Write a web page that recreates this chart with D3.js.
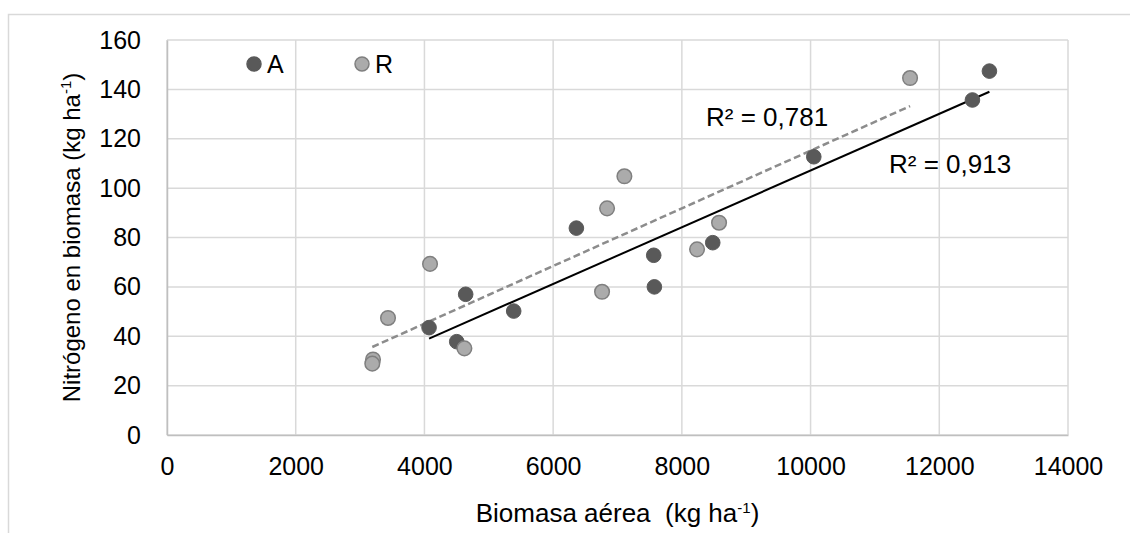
<!DOCTYPE html>
<html>
<head>
<meta charset="utf-8">
<script src="https://cdn.jsdelivr.net/npm/d3@7"></script>
<style>
  body { margin: 0; background: #fff; }
  svg text { font-family: "Liberation Sans", Arial, sans-serif; fill: #000; }
</style>
</head>
<body>
<div class="chart"></div>
<script>
// series A (dark points)
const aBiomasa = [4072, 4641, 4502, 5387, 6361, 7563, 7573, 8480, 10050, 12515, 12779];
const aNitro   = [43.5, 57, 37.8, 50.2, 83.8, 72.8, 60, 77.9, 112.7, 135.7, 147.4];
// series R (light points)
const rBiomasa = [3434, 4087, 3201, 3190, 4621, 6838, 7107, 6760, 8236, 8578, 11546];
const rNitro   = [47.4, 69.3, 30.6, 28.9, 35.1, 91.8, 104.8, 58, 75.2, 86, 144.6];

const xTicks = [0, 2000, 4000, 6000, 8000, 10000, 12000, 14000];
const yTicks = [0, 20, 40, 60, 80, 100, 120, 140, 160];
const r2Labels = ['R² = 0,781', 'R² = 0,913'];

const width = 1130, height = 533;
const margin = {top: 40, right: 62, bottom: 98, left: 167};
const graphWidth = width - margin.left - margin.right;
const graphHeight = height - margin.top - margin.bottom;

const svg = d3.select('.chart')
  .append('svg')
    .attr('width', width)
    .attr('height', height);

// outer chart border
svg.append('rect')
  .attr('x', 8.5).attr('y', 14.5)
  .attr('width', width).attr('height', height)
  .attr('fill', 'none')
  .attr('stroke', '#d9d9d9')
  .attr('stroke-width', 1.5);

const graph = svg.append('g')
  .attr('transform', `translate(${margin.left}, ${margin.top})`);

const x = d3.scaleLinear().domain([0, 14000]).range([0, graphWidth]);
const y = d3.scaleLinear().domain([0, 160]).range([graphHeight, 0]);

// grid
graph.append('g').selectAll('line')
  .data(xTicks)
  .enter().append('line')
    .attr('x1', d => x(d)).attr('x2', d => x(d))
    .attr('y1', 0).attr('y2', graphHeight)
    .attr('stroke', '#d9d9d9').attr('stroke-width', 1.5);

graph.append('g').selectAll('line')
  .data(yTicks)
  .enter().append('line')
    .attr('x1', 0).attr('x2', graphWidth)
    .attr('y1', d => y(d)).attr('y2', d => y(d))
    .attr('stroke', '#d9d9d9').attr('stroke-width', 1.5);

// axes (labels only, lines drawn grey)
const xAxis = d3.axisBottom(x).tickValues(xTicks).tickSize(0).tickPadding(22).tickFormat(d => d);
const yAxis = d3.axisLeft(y).tickValues(yTicks).tickSize(0).tickPadding(26).tickFormat(d => d);

const xAxisGroup = graph.append('g')
  .attr('transform', `translate(0, ${graphHeight})`)
  .call(xAxis);
const yAxisGroup = graph.append('g').call(yAxis);

[xAxisGroup, yAxisGroup].forEach(g => {
  g.select('.domain').attr('stroke', '#bfbfbf').attr('stroke-width', 1.5);
  g.selectAll('text')
    .attr('font-size', 25)
    .attr('font-family', '"Liberation Sans", Arial, sans-serif')
    .attr('fill', '#000');
});

// trendlines (least squares)
function fit(xs, ys) {
  const mx = d3.mean(xs), my = d3.mean(ys);
  let sxy = 0, sxx = 0;
  xs.forEach((v, i) => { sxy += (v - mx) * (ys[i] - my); sxx += (v - mx) * (v - mx); });
  const b = sxy / sxx;
  const a = my - b * mx;
  const x0 = d3.min(xs), x1 = d3.max(xs);
  return [[x0, a + b * x0], [x1, a + b * x1]];
}

const line = d3.line().x(d => x(d[0])).y(d => y(d[1]));

graph.append('path')
  .attr('d', line(fit(rBiomasa, rNitro)))
  .attr('fill', 'none')
  .attr('stroke', '#8c8c8c')
  .attr('stroke-width', 2.5)
  .attr('stroke-dasharray', '7,3.5');

graph.append('path')
  .attr('d', line(fit(aBiomasa, aNitro)))
  .attr('fill', 'none')
  .attr('stroke', '#000')
  .attr('stroke-width', 2);

// points
const rData = rBiomasa.map((v, i) => ({bio: v, n: rNitro[i]}));
const aData = aBiomasa.map((v, i) => ({bio: v, n: aNitro[i]}));

graph.append('g').selectAll('circle')
  .data(aData)
  .enter().append('circle')
    .attr('cx', d => x(d.bio))
    .attr('cy', d => y(d.n))
    .attr('r', 7.3)
    .attr('fill', '#595959')
    .attr('stroke', '#595959')
    .attr('stroke-width', 1);

graph.append('g').selectAll('circle')
  .data(rData)
  .enter().append('circle')
    .attr('cx', d => x(d.bio))
    .attr('cy', d => y(d.n))
    .attr('r', 7.3)
    .attr('fill', '#ababab')
    .attr('stroke', '#7f7f7f')
    .attr('stroke-width', 1.5);

// R² labels
svg.append('text')
  .attr('x', 706).attr('y', 126)
  .attr('font-size', 26)
  .text(r2Labels[0]);
svg.append('text')
  .attr('x', 889).attr('y', 173)
  .attr('font-size', 26)
  .text(r2Labels[1]);

// legend
const legend = [
  {name: 'A', fill: '#595959', stroke: '#595959', cx: 254},
  {name: 'R', fill: '#ababab', stroke: '#7f7f7f', cx: 362}
];
legend.forEach(l => {
  svg.append('circle')
    .attr('cx', l.cx).attr('cy', 64).attr('r', 7)
    .attr('fill', l.fill).attr('stroke', l.stroke).attr('stroke-width', 1.5);
  svg.append('text')
    .attr('x', l.cx + 13).attr('y', 73)
    .attr('font-size', 25)
    .text(l.name);
});

// axis titles
const xTitle = svg.append('text')
  .attr('x', margin.left + graphWidth / 2)
  .attr('y', 522)
  .attr('text-anchor', 'middle')
  .attr('font-size', 26);
xTitle.append('tspan').text('Biomasa aérea\u00a0\u00a0(kg ha');
xTitle.append('tspan').attr('dy', -9).attr('font-size', 15).text('-1');
xTitle.append('tspan').attr('dy', 9).text(')');

const yTitle = svg.append('text')
  .attr('transform', `translate(80, ${margin.top + graphHeight / 2}) rotate(-90)`)
  .attr('text-anchor', 'middle')
  .attr('font-size', 24);
yTitle.append('tspan').text('Nitrógeno en biomasa (kg ha');
yTitle.append('tspan').attr('dy', -9).attr('font-size', 15).text('-1');
yTitle.append('tspan').attr('dy', 9).text(')');
</script>
</body>
</html>
